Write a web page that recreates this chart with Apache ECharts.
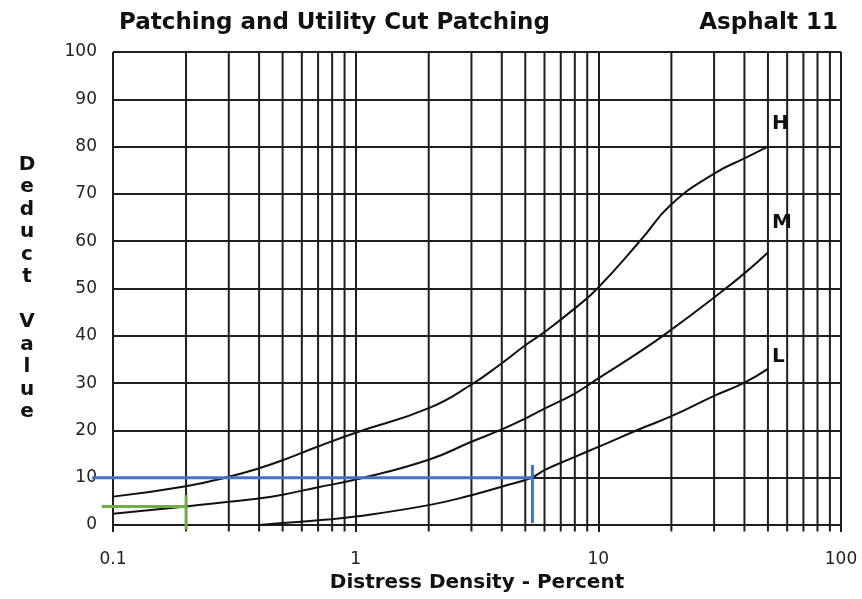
<!DOCTYPE html>
<html><head><meta charset="utf-8">
<script src="https://cdn.jsdelivr.net/npm/echarts@6/dist/echarts.min.js"></script>
<style>html,body{margin:0;padding:0;background:#fff}#c{width:862px;height:599px}</style>
</head><body><div id="c"></div>
<script>
// ---- data ----
const titleText = 'Patching and Utility Cut Patching';
const subTitleText = 'Asphalt 11';
const xTickLabels = ['0.1', '1', '10', '100'];
const yTicks = [0, 10, 20, 30, 40, 50, 60, 70, 80, 90, 100];
const minorGridX = [0.2,0.3,0.4,0.5,0.6,0.7,0.8,0.9, 2,3,4,5,6,7,8,9, 20,30,40,50,60,70,80,90];

const xH = [0.1, 0.2, 0.3, 0.4, 0.5, 0.7, 1, 2, 3, 4, 5, 6, 8, 10, 15, 20, 30, 40, 50];
const yH = [6.0, 8.2, 10.2, 12.0, 13.7, 16.6, 19.5, 24.7, 29.7, 34.2, 38, 40.8, 45.8, 50.2, 60.3, 67.8, 74.3, 77.5, 80];
const xM = [0.1, 0.2, 0.3, 0.4, 0.5, 0.7, 1, 2, 3, 4, 5, 6, 8, 10, 15, 20, 30, 40, 50];
const yM = [2.4, 3.9, 4.9, 5.6, 6.4, 8.0, 9.6, 13.8, 17.6, 20.2, 22.5, 24.6, 27.8, 31, 36.8, 41.3, 48.1, 53.2, 57.6];
const xL = [0.4, 0.5, 0.7, 1, 2, 3, 4, 5.3, 6, 8, 10, 15, 20, 30, 40, 50];
const yL = [0, 0.4, 1.0, 1.8, 4.2, 6.3, 8.1, 10, 11.6, 14.4, 16.5, 20.4, 23, 27.3, 30.1, 33];

// reading guides: [x1, y1, x2, y2]
const blueSegments = [[0.082, 10, 5.35, 10], [5.35, 0.4, 5.35, 12.7]];
const greenSegments = [[0.09, 3.9, 0.2, 3.9], [0.2, -1, 0.2, 6.3]];
const blueColor = '#4472C4';
const greenColor = '#70AD47';

const pair = (xs, ys) => xs.map((x, i) => [x, ys[i]]);

const chart = echarts.init(document.getElementById('c'));
const gridColor = '#1e1e1e';
const font = 'DejaVu Sans';

function curve(name, xs, ys, off) {
  return {
    type: 'line', name, data: pair(xs, ys), smooth: 0.5, showSymbol: false, symbol: 'none',
    lineStyle: { color: '#111', width: 2 }, z: 5, silent: true,
    endLabel: { show: true, formatter: name, offset: off, fontFamily: font, fontWeight: 'bold', fontSize: 20, color: '#111' }
  };
}
function guides(segs, color) {
  return {
    type: 'custom', xAxisIndex: 1, clip: false, silent: true, z: 8,
    data: segs.map(s => [Math.log10(s[0]), s[1], Math.log10(s[2]), s[3]]),
    encode: { x: [0, 2], y: [1, 3] },
    renderItem: (params, api) => {
      const a = api.coord([api.value(0), api.value(1)]);
      const b = api.coord([api.value(2), api.value(3)]);
      return { type: 'line', shape: { x1: a[0], y1: a[1], x2: b[0], y2: b[1] },
        style: { stroke: color, lineWidth: 3 } };
    }
  };
}

chart.setOption({
  animation: false,
  backgroundColor: '#fff',
  title: [
    { text: titleText, left: 114, top: 7, textStyle: { fontFamily: font, fontWeight: 'bold', fontSize: 23, color: '#111' } },
    { text: subTitleText, right: 19, top: 7, textStyle: { fontFamily: font, fontWeight: 'bold', fontSize: 23, color: '#111' } }
  ],
  grid: { left: 113, right: 21, top: 52, bottom: 74 },
  xAxis: [{
    type: 'log', logBase: 10, min: 0.1, max: 100,
    name: 'Distress Density - Percent', nameLocation: 'middle', nameGap: 48,
    nameTextStyle: { fontFamily: font, fontWeight: 'bold', fontSize: 20, color: '#111' },
    axisLine: { show: true, lineStyle: { color: gridColor, width: 2 } },
    axisTick: { show: true, length: 7, lineStyle: { color: gridColor, width: 2 } },
    axisLabel: { fontFamily: font, fontSize: 17, color: '#222', margin: 26,
      formatter: (v) => { const i = Math.round(Math.log10(v)) + 1; return xTickLabels[i] !== undefined ? xTickLabels[i] : ''; } },
    splitLine: { show: true, lineStyle: { color: gridColor, width: 2 } }
  }, {
    type: 'value', min: -1, max: 2, show: false
  }],
  yAxis: {
    type: 'value', min: 0, max: 100, interval: 10,
    name: 'Deduct Value'.split('').map(c => c === ' ' ? '' : c).join('\n'),
    nameLocation: 'middle', nameRotate: 0, nameGap: 86,
    nameTextStyle: { fontFamily: font, fontWeight: 'bold', fontSize: 20, color: '#111', align: 'center', lineHeight: 22.5, verticalAlign: 'middle' },
    axisLine: { show: true, lineStyle: { color: gridColor, width: 2 } },
    axisTick: { show: true, length: 9, lineStyle: { color: gridColor, width: 2 } },
    axisLabel: { fontFamily: font, fontSize: 17, color: '#222', margin: 16,
      formatter: (v) => yTicks.indexOf(v) >= 0 ? String(v) : '' },
    splitLine: { show: true, lineStyle: { color: gridColor, width: 2 } }
  },
  series: [
    {
      type: 'custom', clip: false, silent: true, z: 1,
      data: minorGridX.map(x => [x, 0]),
      renderItem: (params, api) => {
        const x = api.value(0);
        const p1 = api.coord([x, -1.4]);
        const p2 = api.coord([x, 100]);
        return { type: 'line', shape: { x1: p1[0], y1: p1[1], x2: p2[0], y2: p2[1] },
          style: { stroke: gridColor, lineWidth: 2 } };
      }
    },
    curve('H', xH, yH, [-4, -23]),
    curve('M', xM, yM, [-4, -30]),
    curve('L', xL, yL, [-4, -12]),
    guides(blueSegments, blueColor),
    guides(greenSegments, greenColor)
  ]
});
</script></body></html>
